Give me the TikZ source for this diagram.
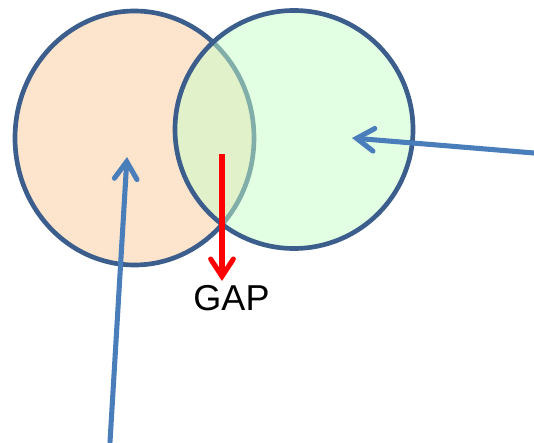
\documentclass[tikz,border=0pt]{standalone}
\usepackage{fontspec}
\setmainfont{Liberation Sans}
\usetikzlibrary{arrows.meta}
\definecolor{setline}{RGB}{59,94,140}
\definecolor{peach}{RGB}{253,228,204}
\definecolor{mint}{RGB}{199,255,199}
\definecolor{pointerblue}{RGB}{74,126,187}

\begin{document}
\begin{tikzpicture}[x=0.75pt, y=-0.75pt,
    >={Straight Barb[length=13pt, width=17pt, line cap=round]},
    pointer/.style={->, line width=3.8pt, pointerblue, line cap=round},
    gaparrow/.style={->, line width=3.8pt, red}]
        \useasboundingbox (0,0) rectangle (534,442);
        % ==== SETS ====
        \filldraw[fill=peach, draw=setline, line width=3.5pt]
            (134.5,138) ellipse [x radius=119.5, y radius=127];
        \fill[mint, fill opacity=0.5] (294,129.5) circle [radius=119];
        \draw[setline, line width=3.5pt] (294,129.5) circle [radius=119];

        % ==== GAP ====
        \node (gap) at (231.5,298.5) {\fontsize{27}{27}\selectfont GAP};
        \coordinate (gaptop) at (222,154);
        \coordinate (gaptip) at (222,281);
        \draw[gaparrow] (gaptop) -- (gaptip);

        % ==== Pointers ====
        \coordinate (lefttail) at (110,442);
        \coordinate (lefttip) at (127,157);
        \coordinate (righttail) at (534,153);
        \coordinate (righttip) at (352,138);
        \draw[pointer] (lefttail) -- (lefttip);
        \draw[pointer] (righttail) -- (righttip);
     \end{tikzpicture}
\end{document}
